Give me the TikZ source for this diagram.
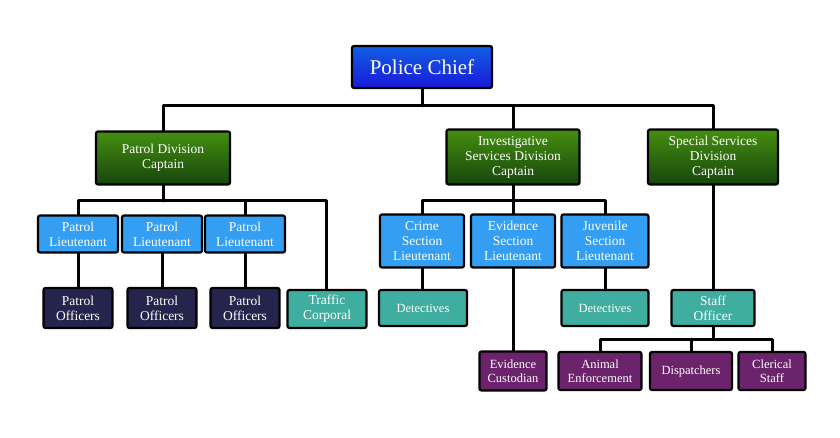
\documentclass[tikz,border=0pt]{standalone}
\usepackage{fontspec}
\setmainfont{Liberation Serif}
\definecolor{chiefblue}{rgb}{0.1,0.1,0.85}
\definecolor{capgreen}{rgb}{0.15,0.45,0.08}
\definecolor{ltblue}{rgb}{0.2,0.62,0.95}
\definecolor{offnavy}{rgb}{0.14,0.14,0.3}
\definecolor{corteal}{rgb}{0.25,0.68,0.63}
\definecolor{staffpurple}{rgb}{0.42,0.14,0.42}
\begin{document}
\begin{tikzpicture}[x=1pt,y=-1pt,line cap=round,line join=round,
  box/.style={draw=black,line width=2.2pt,rounded corners=2pt,text=white,align=center,
    font=\fontsize{13.5}{15}\selectfont,inner sep=1pt},
  small/.style={font=\fontsize{12.5}{14}\selectfont},
  link/.style={line width=3pt,draw=black}]
\useasboundingbox (0,0) rectangle (840,438);
\begin{scope}[link]
\draw (422,67) -- (422,106);
\draw (163,158) -- (163,106) -- (713,106) -- (713,158);
\draw (513,106) -- (513,158);
\draw (163,158) -- (163,201);
\draw (78,234) -- (78,201) -- (326,201) -- (326,308);
\draw (245,201) -- (245,234);
\draw (78,234) -- (78,308);
\draw (162,234) -- (162,308);
\draw (245,234) -- (245,308);
\draw (513,158) -- (513,201);
\draw (422,241) -- (422,201) -- (605,201) -- (605,241);
\draw (422,241) -- (422,308);
\draw (513,201) -- (513,371);
\draw (605,241) -- (605,308);
\draw (713,158) -- (713,339);
\draw (600,371) -- (600,339) -- (772,339) -- (772,371);
\draw (691,339) -- (691,371);
\end{scope}
\node[box,top color=chiefblue!70!cyan,bottom color=chiefblue,minimum width=140,minimum height=42,font=\fontsize{21}{22}\selectfont] (chief) at (422,67) {Police Chief};
\node[box,top color=capgreen!80!lime,bottom color=capgreen!60!black,minimum width=134,minimum height=53] (patrol) at (163,158) {Patrol Division\\Captain};
\node[box,top color=capgreen!80!lime,bottom color=capgreen!60!black,minimum width=133,minimum height=55] (invest) at (513,157) {Investigative\\Services Division\\Captain};
\node[box,top color=capgreen!80!lime,bottom color=capgreen!60!black,minimum width=130,minimum height=55] (special) at (713,157) {Special Services\\Division\\Captain};
\foreach \n/\x in {lta/78,ltb/162,ltc/245}
  \node[box,fill=ltblue,minimum width=80,minimum height=37] (\n) at (\x,234) {Patrol\\Lieutenant};
\foreach \n/\x in {offa/78,offb/162,offc/245}
  \node[box,fill=offnavy,minimum width=69,minimum height=40] (\n) at (\x,308) {Patrol\\Officers};
\node[box,fill=corteal,minimum width=79,minimum height=38] (traffic) at (327,309) {Traffic\\Corporal};
\node[box,fill=ltblue,minimum width=84,minimum height=53] (crime) at (422,241) {Crime\\Section\\Lieutenant};
\node[box,fill=ltblue,minimum width=84,minimum height=53] (evid) at (513,241) {Evidence\\Section\\Lieutenant};
\node[box,fill=ltblue,minimum width=87,minimum height=53] (juv) at (605,241) {Juvenile\\Section\\Lieutenant};
\node[box,small,fill=corteal,minimum width=88,minimum height=36] (deta) at (423,308) {Detectives};
\node[box,small,fill=corteal,minimum width=87,minimum height=36] (detb) at (605,308) {Detectives};
\node[box,fill=corteal,minimum width=83,minimum height=36] (staffoff) at (713,308) {Staff\\Officer};
\node[box,small,fill=staffpurple,minimum width=67,minimum height=39] (cust) at (513,371) {Evidence\\Custodian};
\node[box,small,fill=staffpurple,minimum width=83,minimum height=38] (animal) at (600,371) {Animal\\Enforcement};
\node[box,small,fill=staffpurple,minimum width=82,minimum height=38] (disp) at (691,371) {Dispatchers};
\node[box,small,fill=staffpurple,minimum width=67,minimum height=38] (cler) at (772,371) {Clerical\\Staff};
\end{tikzpicture}
\end{document}
